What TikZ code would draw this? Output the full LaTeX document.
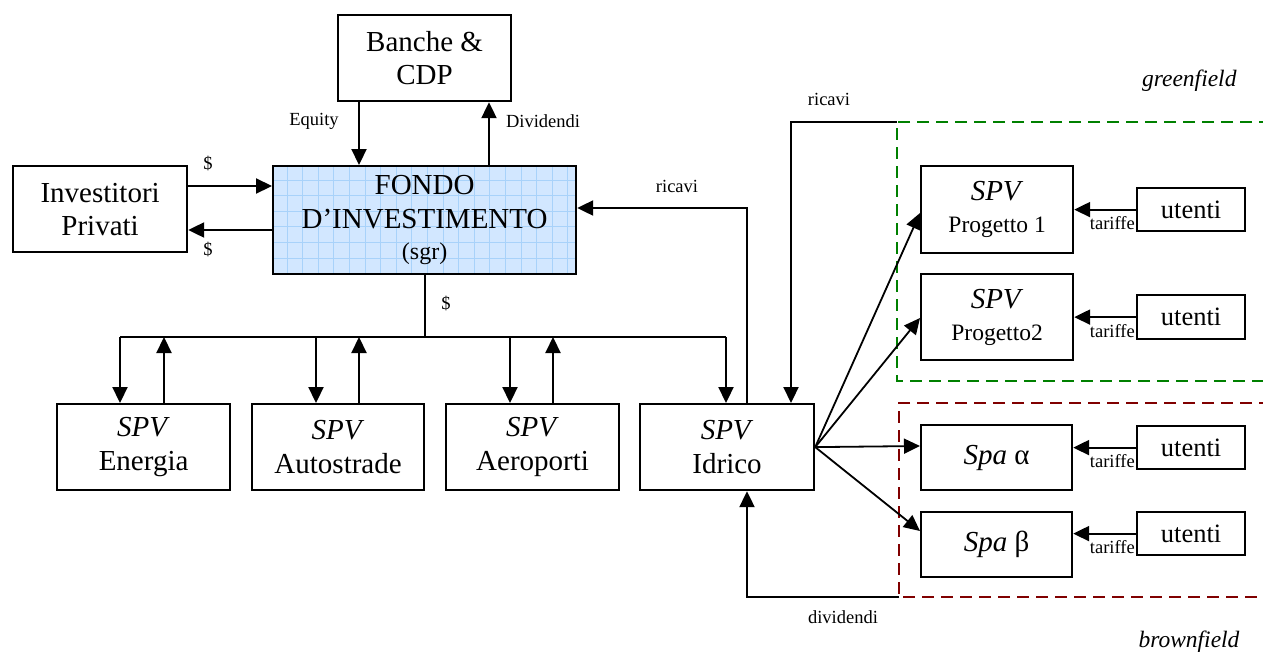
\documentclass[tikz,border=0pt]{standalone}
\usepackage{fontspec}
\setmainfont{Liberation Serif}
\usetikzlibrary{arrows.meta,calc}
\definecolor{fondofill}{RGB}{210,231,255}
\definecolor{fondogrid}{RGB}{168,210,250}
\definecolor{greenf}{RGB}{0,128,0}
\definecolor{brownf}{RGB}{128,0,0}
\tikzset{
  box/.style={draw=black, line width=2.2pt, inner sep=0pt, align=center},
  big/.style={font=\fontsize{29}{34}\selectfont},
  ut/.style={font=\fontsize{26.5}{30}\selectfont},
  lbl/.style={font=\fontsize{18.5}{20}\selectfont, inner sep=0pt},
  conn/.style={line width=2.2pt},
  arr/.style={line width=2.2pt, -{Triangle[length=16pt,width=15pt]}},
  fan/.style={line width=1.8pt, -{Triangle[length=16pt,width=15pt]}},
  zone/.style={line width=2.8pt, dash pattern=on 12pt off 7pt},
}
\newcommand{\rbox}[7]{% name, options, x1, y1, x2, y2, text
  \node[box, #2, minimum width=#5-#3, minimum height=#6-#4, anchor=north west] (#1) at (#3,#4) {#7};}
\begin{document}
\begin{tikzpicture}[x=1pt,y=-1pt]
\useasboundingbox (0,0) rectangle (1263,654);
\fill[white] (0,0) rectangle (1263,654);

% zones
\draw[zone, greenf] (1290,122) -- (897,122) coordinate (gtl) -- (897,381) -- (1290,381);
\draw[zone, brownf] (1290,403) -- (899,403) -- (899,597) coordinate (rbl) -- (1290,597);
\node[font=\itshape\fontsize{23.5}{26}\selectfont, anchor=east] (gf) at (1240,81) {greenfield};
\node[font=\itshape\fontsize{23.5}{26}\selectfont, anchor=east] (bf) at (1243,642) {brownfield};

% fondo
\fill[fondofill] (272,165) rectangle (575,273);
\foreach \gx in {0,...,18} {\draw[fondogrid, line width=0.8pt] (272+15+\gx*15.6,165) -- (272+15+\gx*15.6,273);}
\foreach \gy in {0,...,5} {\draw[fondogrid, line width=0.8pt] (272,165+15+\gy*15.6) -- (575,165+15+\gy*15.6);}
\node[box, big, minimum width=303, minimum height=108, anchor=north west] (fondo) at (272,165)
  {FONDO\\D’INVESTIMENTO\\[-3pt]{\fontsize{24}{28}\selectfont(sgr)}};

\rbox{banche}{font=\fontsize{29}{33}\selectfont}{337}{14}{510}{100}{Banche \&\\CDP}
\rbox{inv}{font=\fontsize{29}{33}\selectfont}{12}{165}{186}{251}{Investitori\\Privati}

\rbox{en}{big}{56}{403}{229}{489}{\textit{SPV}\\Energia}
\rbox{au}{big}{251}{403}{423}{489}{\textit{SPV}\\Autostrade}
\rbox{ae}{big}{445}{403}{618}{489}{\textit{SPV}\\Aeroporti}
\rbox{id}{big}{639}{403}{813}{489}{\textit{SPV}\\Idrico}

\rbox{p1}{font=\fontsize{29}{32}\selectfont}{920}{165}{1072}{252}{\textit{SPV}\\{\fontsize{23.5}{28}\selectfont Progetto 1}}
\rbox{p2}{font=\fontsize{29}{32}\selectfont}{920}{273}{1072}{359}{\textit{SPV}\\{\fontsize{23.5}{28}\selectfont Progetto2}}
\rbox{sa}{big}{920}{424}{1071}{489}{\textit{Spa} α}
\rbox{sb}{big}{920}{511}{1071}{576}{\textit{Spa} β}

\rbox{u1}{ut}{1136}{187}{1244}{230}{utenti}
\rbox{u2}{ut}{1136}{294}{1244}{338}{utenti}
\rbox{u3}{ut}{1136}{425}{1244}{468}{utenti}
\rbox{u4}{ut}{1136}{511}{1244}{554}{utenti}

% Banche <-> fondo
\draw[arr] (banche.south -| 359,0) -- (fondo.north -| 359,0);
\draw[arr] (fondo.north -| 489,0) -- (banche.south -| 489,0);
\node[lbl] (leq) at (314,121) {Equity};
\node[lbl] (ldiv) at (543,121) {Dividendi};

% investitori <-> fondo
\draw[arr] (inv.east |- 0,186) -- (fondo.west |- 0,186);
\draw[arr] (fondo.west |- 0,230) -- (inv.east |- 0,230);
\node[lbl] (ld1) at (208,164) {\$};
\node[lbl] (ld2) at (208,250) {\$};

% bus
\coordinate (bus) at (423,337);
\draw[conn] (fondo.south) -- (fondo.south |- bus);
\node[lbl] (ld3) at (446,303) {\$};
\draw[conn] (120,337) -- (726,337);
\draw[arr] (120,337) -- (en.north -| 120,0);
\draw[arr] (en.north -| 164,0) -- (164,337);
\draw[arr] (316,337) -- (au.north -| 316,0);
\draw[arr] (au.north -| 359,0) -- (359,337);
\draw[arr] (510,337) -- (ae.north -| 510,0);
\draw[arr] (ae.north -| 553,0) -- (553,337);
\draw[arr] (726,337) -- (id.north -| 726,0);

% ricavi to fondo
\draw[arr] (id.north -| 747,0) -- (747,208) -- (fondo.east |- 0,208);
\node[lbl] (lr1) at (677,186) {ricavi};

% ricavi from greenfield
\draw[arr] (gtl) -- (791,122) -- (id.north -| 791,0);
\node[lbl] (lr2) at (829,99) {ricavi};

% dividendi from brownfield
\draw[arr] (rbl) -- (747,597) -- (id.south -| 747,0);
\node[lbl] (ldv) at (843,617) {dividendi};

% fan
\draw[fan] (id.east) -- (p1.west |- 0,213);
\draw[fan] (id.east) -- (p2.west |- 0,318);
\draw[fan] (id.east) -- (sa.west |- 0,446);
\draw[fan] (id.east) -- (sb.west |- 0,531);

% utenti -> spv
\draw[arr] (u1.west) -- (p1.east |- u1.west);
\draw[arr] (u2.west) -- (p2.east |- u2.west);
\draw[arr] (u3.west) -- (sa.east |- u3.west);
\draw[arr] (u4.west) -- (sb.east |- u4.west);
\node[lbl, anchor=north east] (t1) at ($(u1.west)+(-1,7)$) {tariffe};
\node[lbl, anchor=north east] (t2) at ($(u2.west)+(-1,7)$) {tariffe};
\node[lbl, anchor=north east] (t3) at ($(u3.west)+(-1,7)$) {tariffe};
\node[lbl, anchor=north east] (t4) at ($(u4.west)+(-1,7)$) {tariffe};
\end{tikzpicture}
\end{document}
